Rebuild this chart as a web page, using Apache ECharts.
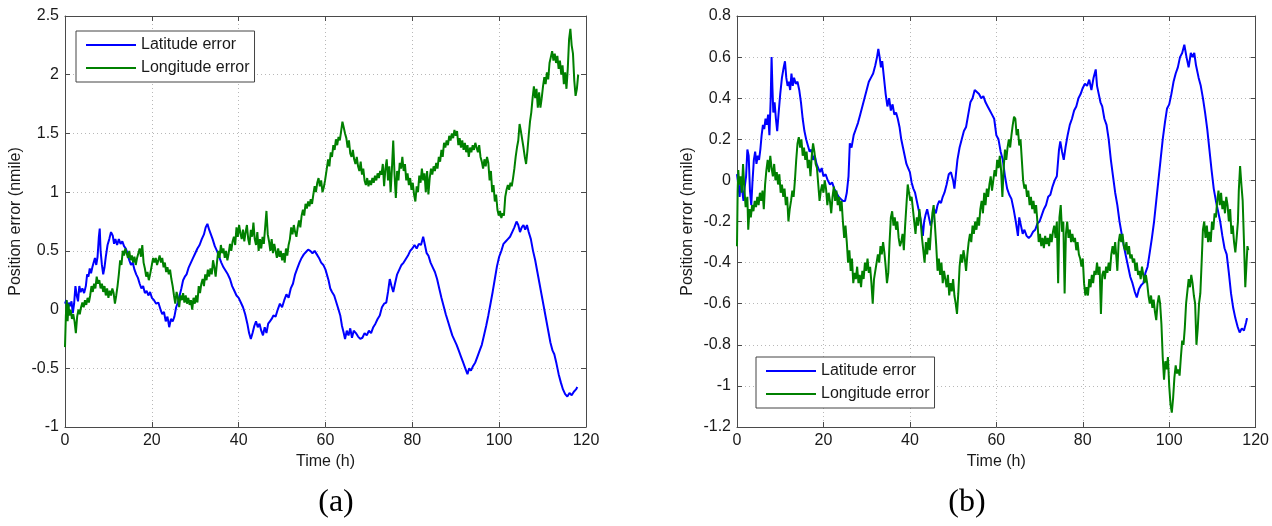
<!DOCTYPE html>
<html>
<head>
<meta charset="utf-8">
<script src="https://cdn.jsdelivr.net/npm/echarts@6/dist/echarts.min.js"></script>
<style>
html,body{margin:0;padding:0;background:#fff;}
#chart{width:1272px;height:526px;}
</style>
</head>
<body>
<div id="chart"></div>
<script>
// ---- data: [time (h), error (nmile)] ----
var seriesNames = ['Latitude error', 'Longitude error'];
var xLabelName = 'Time (h)';
var yLabelName = 'Position error (nmile)';
var panelLabels = ['(a)', '(b)'];

var latA = [[0,0.05],[0.3,0.08],[0.6,-0.02],[0.9,0.06],[1.2,0.03],[1.5,0.07],[1.8,-0.03],[2.1,0.05],[2.4,0.2],[2.7,0.12],[3.0,0.07],[3.3,0.2],[3.6,0.15],[4.0,0.18],[4.4,0.14],[4.8,0.2],[5.1,0.3],[5.4,0.28],[5.7,0.35],[6.0,0.31],[6.3,0.36],[6.6,0.4],[6.9,0.44],[7.2,0.38],[7.5,0.45],[7.8,0.62],[8.0,0.69],[8.2,0.5],[8.5,0.38],[8.8,0.3],[9.1,0.36],[9.4,0.45],[9.8,0.55],[10.2,0.6],[10.6,0.66],[11.0,0.63],[11.3,0.56],[11.6,0.6],[12.0,0.55],[12.4,0.6],[12.8,0.56],[13.2,0.58],[13.6,0.54],[14.0,0.52],[14.4,0.48],[14.8,0.42],[15.2,0.38],[15.6,0.4],[16.0,0.34],[16.4,0.3],[16.8,0.27],[17.2,0.22],[17.6,0.18],[18.0,0.2],[18.4,0.14],[18.8,0.16],[19.2,0.12],[19.6,0.15],[20.0,0.1],[20.5,0.08],[21.0,0.05],[21.5,0.06],[22.0,0.0],[22.4,-0.04],[22.8,-0.02],[23.2,-0.1],[23.6,-0.06],[24.0,-0.15],[24.4,-0.08],[24.8,-0.1],[25.2,-0.06],[25.6,0.02],[26.0,0.06],[26.4,0.12],[26.8,0.18],[27.2,0.25],[27.6,0.28],[28.0,0.3],[28.5,0.36],[29.0,0.4],[29.5,0.44],[30.0,0.48],[30.5,0.52],[31.0,0.55],[31.5,0.6],[32.0,0.64],[32.4,0.7],[32.8,0.73],[33.2,0.68],[33.6,0.64],[34.0,0.6],[34.5,0.54],[35.0,0.5],[35.5,0.45],[36.0,0.4],[36.5,0.36],[37.0,0.33],[37.5,0.3],[38.0,0.26],[38.5,0.2],[39.0,0.16],[39.5,0.12],[40.0,0.1],[40.5,0.06],[41.0,0.02],[41.5,-0.04],[42.0,-0.12],[42.4,-0.2],[42.8,-0.25],[43.2,-0.2],[43.6,-0.14],[44.0,-0.1],[44.4,-0.15],[44.8,-0.12],[45.2,-0.18],[45.6,-0.22],[46.0,-0.15],[46.4,-0.2],[46.8,-0.12],[47.2,-0.1],[47.6,-0.08],[48.0,-0.05],[48.5,-0.06],[49.0,0.0],[49.5,0.05],[50.0,0.02],[50.5,0.08],[51.0,0.13],[51.5,0.1],[52.0,0.18],[52.5,0.22],[53.0,0.3],[53.5,0.35],[54.0,0.4],[54.5,0.44],[55.0,0.47],[55.5,0.49],[56.0,0.51],[56.5,0.5],[57.0,0.48],[57.5,0.5],[58.0,0.47],[58.5,0.44],[59.0,0.4],[59.5,0.38],[60.0,0.34],[60.3,0.34],[60.7,0.25],[61.1,0.18],[61.5,0.15],[62.0,0.12],[62.5,0.06],[63.0,0.0],[63.4,-0.05],[63.8,-0.14],[64.2,-0.2],[64.5,-0.25],[64.9,-0.18],[65.3,-0.22],[65.7,-0.16],[66.1,-0.24],[66.5,-0.18],[67.0,-0.2],[67.5,-0.23],[68.0,-0.25],[68.5,-0.24],[69.0,-0.2],[69.5,-0.22],[70.0,-0.18],[70.5,-0.2],[71.0,-0.15],[71.5,-0.12],[72.0,-0.08],[72.5,-0.05],[73.0,0.02],[73.5,0.05],[74.0,0.06],[74.4,0.15],[74.8,0.26],[75.2,0.2],[75.6,0.15],[76.0,0.22],[76.5,0.3],[77.0,0.34],[77.5,0.38],[78.0,0.4],[78.5,0.43],[79.0,0.46],[79.5,0.5],[80.0,0.52],[80.5,0.55],[81.0,0.52],[81.5,0.56],[82.0,0.55],[82.5,0.62],[82.9,0.55],[83.3,0.48],[83.7,0.46],[84.2,0.4],[84.7,0.36],[85.2,0.32],[85.7,0.26],[86.2,0.18],[86.7,0.1],[87.2,0.03],[87.7,-0.04],[88.2,-0.1],[88.7,-0.16],[89.2,-0.22],[89.7,-0.26],[90.2,-0.3],[90.7,-0.35],[91.2,-0.4],[91.7,-0.45],[92.2,-0.5],[92.7,-0.55],[93.1,-0.5],[93.5,-0.52],[94.0,-0.48],[94.5,-0.45],[95.0,-0.4],[95.5,-0.35],[96.0,-0.3],[96.5,-0.22],[97.0,-0.14],[97.5,-0.05],[98.0,0.05],[98.5,0.15],[99.0,0.26],[99.5,0.37],[100.0,0.45],[100.5,0.5],[101.0,0.56],[101.5,0.58],[102.0,0.6],[102.5,0.62],[103.0,0.66],[103.5,0.7],[104.0,0.75],[104.4,0.72],[104.8,0.66],[105.2,0.7],[105.6,0.72],[106.0,0.68],[106.4,0.72],[106.8,0.66],[107.3,0.6],[107.8,0.5],[108.3,0.42],[108.8,0.32],[109.3,0.22],[109.8,0.12],[110.3,0.02],[110.8,-0.08],[111.3,-0.18],[111.8,-0.28],[112.3,-0.35],[112.7,-0.38],[113.2,-0.46],[113.7,-0.55],[114.2,-0.62],[114.7,-0.68],[115.2,-0.72],[115.7,-0.74],[116.2,-0.71],[116.7,-0.73],[117.2,-0.7],[117.7,-0.68],[118.0,-0.66]];

var lonA = [[0,-0.32],[0.2,-0.05],[0.4,0.08],[0.6,-0.1],[0.8,0.05],[1.0,-0.05],[1.3,0.0],[1.6,-0.08],[1.9,-0.04],[2.2,-0.1],[2.5,-0.2],[2.8,-0.06],[3.1,0.0],[3.4,-0.04],[3.7,0.02],[4.0,0.06],[4.3,0.02],[4.6,0.08],[4.9,0.04],[5.2,0.1],[5.5,0.06],[5.8,0.12],[6.1,0.2],[6.4,0.15],[6.7,0.22],[7.0,0.18],[7.3,0.28],[7.6,0.22],[7.9,0.25],[8.2,0.18],[8.5,0.22],[8.8,0.15],[9.1,0.2],[9.4,0.12],[9.7,0.18],[10.0,0.1],[10.3,0.16],[10.6,0.12],[10.9,0.18],[11.2,0.14],[11.5,0.05],[11.8,0.12],[12.1,0.2],[12.4,0.3],[12.7,0.42],[13.0,0.38],[13.3,0.5],[13.6,0.46],[13.9,0.52],[14.2,0.48],[14.5,0.44],[14.8,0.5],[15.1,0.42],[15.4,0.46],[15.7,0.4],[16.0,0.45],[16.3,0.38],[16.6,0.44],[16.9,0.48],[17.2,0.52],[17.5,0.45],[17.8,0.55],[18.1,0.4],[18.4,0.35],[18.7,0.28],[19.0,0.32],[19.3,0.25],[19.6,0.3],[20.0,0.38],[20.3,0.44],[20.6,0.4],[20.9,0.44],[21.2,0.38],[21.5,0.42],[21.8,0.46],[22.1,0.4],[22.4,0.44],[22.7,0.36],[23.0,0.4],[23.3,0.32],[23.6,0.36],[23.9,0.3],[24.2,0.34],[24.5,0.26],[24.8,0.2],[25.1,0.12],[25.4,0.05],[25.7,0.15],[26.0,0.1],[26.3,0.02],[26.6,0.12],[26.9,0.08],[27.2,0.14],[27.5,0.06],[27.8,0.12],[28.1,0.05],[28.4,0.1],[28.7,0.04],[29.0,0.08],[29.3,0.0],[29.6,0.1],[29.9,0.05],[30.2,0.12],[30.5,0.06],[30.8,0.2],[31.1,0.14],[31.4,0.22],[31.7,0.26],[32.0,0.2],[32.3,0.3],[32.6,0.25],[32.9,0.34],[33.2,0.28],[33.5,0.35],[33.8,0.3],[34.1,0.42],[34.4,0.36],[34.7,0.28],[35.0,0.4],[35.3,0.5],[35.6,0.44],[35.9,0.55],[36.2,0.48],[36.5,0.52],[36.8,0.44],[37.1,0.5],[37.4,0.42],[37.7,0.48],[38.0,0.56],[38.3,0.5],[38.6,0.58],[38.9,0.62],[39.2,0.55],[39.5,0.7],[39.8,0.62],[40.1,0.72],[40.4,0.65],[40.7,0.6],[41.0,0.68],[41.3,0.58],[41.6,0.66],[41.9,0.72],[42.2,0.6],[42.5,0.55],[42.8,0.68],[43.1,0.62],[43.4,0.74],[43.7,0.6],[44.0,0.55],[44.3,0.66],[44.6,0.5],[44.9,0.6],[45.2,0.52],[45.5,0.62],[45.8,0.56],[46.1,0.7],[46.4,0.84],[46.7,0.64],[47.0,0.58],[47.3,0.5],[47.6,0.6],[47.9,0.48],[48.2,0.56],[48.5,0.5],[48.8,0.44],[49.1,0.52],[49.4,0.45],[49.7,0.5],[50.0,0.42],[50.3,0.48],[50.6,0.4],[50.9,0.52],[51.2,0.46],[51.5,0.55],[51.8,0.6],[52.1,0.7],[52.4,0.64],[52.7,0.72],[53.0,0.66],[53.3,0.62],[53.6,0.7],[53.9,0.76],[54.2,0.7],[54.5,0.8],[54.8,0.85],[55.1,0.8],[55.4,0.9],[55.7,0.86],[56.0,0.92],[56.3,0.88],[56.6,0.94],[56.9,0.9],[57.2,0.98],[57.5,1.05],[57.8,1.0],[58.1,1.08],[58.4,1.12],[58.7,1.05],[59.0,1.1],[59.3,1.0],[59.6,1.04],[59.9,1.1],[60.3,1.2],[60.6,1.28],[60.9,1.22],[61.2,1.34],[61.5,1.3],[61.8,1.4],[62.1,1.36],[62.4,1.45],[62.7,1.4],[63.0,1.47],[63.3,1.44],[63.6,1.52],[63.9,1.6],[64.2,1.55],[64.5,1.5],[64.8,1.46],[65.1,1.38],[65.4,1.44],[65.7,1.33],[66.0,1.3],[66.3,1.36],[66.6,1.28],[66.9,1.24],[67.2,1.3],[67.5,1.22],[67.8,1.18],[68.1,1.26],[68.4,1.15],[68.7,1.2],[69.0,1.1],[69.3,1.06],[69.6,1.12],[69.9,1.05],[70.2,1.1],[70.5,1.06],[70.8,1.12],[71.1,1.08],[71.4,1.14],[71.7,1.1],[72.0,1.16],[72.3,1.12],[72.6,1.18],[72.9,1.15],[73.2,1.24],[73.5,1.05],[73.8,1.2],[74.1,1.28],[74.4,1.1],[74.7,1.22],[75.0,1.0],[75.3,1.2],[75.6,1.44],[75.9,1.15],[76.2,0.95],[76.5,1.18],[76.8,1.1],[77.1,1.25],[77.4,1.2],[77.7,1.3],[78.0,1.18],[78.3,1.24],[78.6,1.1],[78.9,1.16],[79.2,1.06],[79.5,1.12],[79.8,1.02],[80.1,1.08],[80.4,0.98],[80.7,0.92],[81.0,1.05],[81.3,1.0],[81.6,1.14],[81.9,1.08],[82.2,1.2],[82.5,1.1],[82.8,1.16],[83.1,1.0],[83.4,1.18],[83.7,0.98],[84.0,1.12],[84.3,1.2],[84.6,1.15],[84.9,1.22],[85.2,1.18],[85.5,1.25],[85.8,1.2],[86.1,1.3],[86.4,1.26],[86.7,1.36],[87.0,1.3],[87.3,1.42],[87.6,1.38],[87.9,1.44],[88.2,1.4],[88.5,1.48],[88.8,1.44],[89.1,1.5],[89.4,1.46],[89.7,1.53],[90.0,1.48],[90.3,1.52],[90.6,1.4],[90.9,1.46],[91.2,1.38],[91.5,1.44],[91.8,1.36],[92.1,1.42],[92.4,1.34],[92.7,1.4],[93.0,1.3],[93.3,1.38],[93.6,1.34],[93.9,1.4],[94.2,1.36],[94.5,1.42],[94.8,1.38],[95.1,1.34],[95.4,1.4],[95.7,1.3],[96.0,1.26],[96.3,1.2],[96.6,1.28],[96.9,1.22],[97.2,1.3],[97.5,1.25],[97.8,1.1],[98.1,1.18],[98.4,1.0],[98.7,1.06],[99.0,0.92],[99.3,0.98],[99.6,0.85],[99.9,0.8],[100.2,0.84],[100.5,0.78],[100.8,0.82],[101.1,0.8],[101.4,0.96],[101.7,1.02],[102.0,1.06],[102.3,1.02],[102.6,1.08],[102.9,1.05],[103.2,1.12],[103.5,1.2],[103.8,1.3],[104.1,1.38],[104.4,1.44],[104.7,1.58],[105.0,1.52],[105.3,1.45],[105.6,1.38],[105.9,1.3],[106.2,1.24],[106.5,1.35],[106.8,1.48],[107.1,1.6],[107.4,1.68],[107.7,1.8],[108.0,1.9],[108.3,1.8],[108.6,1.88],[108.9,1.72],[109.2,1.85],[109.5,1.72],[109.8,1.8],[110.1,1.9],[110.4,1.98],[110.7,1.92],[111.0,2.02],[111.3,1.96],[111.6,2.1],[111.9,2.15],[112.2,2.2],[112.5,2.12],[112.8,2.18],[113.1,2.1],[113.4,2.16],[113.7,2.05],[114.0,2.12],[114.3,2.0],[114.6,2.08],[114.9,1.92],[115.2,2.02],[115.5,1.88],[115.8,2.05],[116.1,2.3],[116.4,2.39],[116.7,2.25],[117.0,2.18],[117.3,1.95],[117.6,1.82],[117.9,1.88],[118.2,2.0]];

var latB = [[0,0.03],[0.3,-0.02],[0.6,-0.08],[0.9,0.0],[1.2,-0.05],[1.5,-0.1],[1.8,-0.03],[2.1,0.02],[2.4,0.15],[2.7,0.12],[3.0,-0.05],[3.3,-0.12],[3.6,0.0],[3.9,0.1],[4.2,0.14],[4.5,0.08],[4.8,0.12],[5.1,0.1],[5.4,0.15],[5.7,0.22],[6.0,0.27],[6.3,0.25],[6.6,0.3],[6.9,0.27],[7.2,0.32],[7.5,0.22],[7.8,0.4],[8.0,0.6],[8.2,0.45],[8.4,0.33],[8.7,0.38],[9.0,0.3],[9.3,0.24],[9.6,0.32],[10.0,0.42],[10.4,0.5],[10.8,0.55],[11.1,0.58],[11.4,0.5],[11.7,0.46],[12.0,0.48],[12.3,0.44],[12.6,0.52],[12.9,0.46],[13.2,0.5],[13.6,0.47],[14.0,0.48],[14.4,0.44],[14.8,0.38],[15.2,0.3],[15.6,0.24],[16.0,0.2],[16.4,0.17],[16.8,0.14],[17.2,0.15],[17.6,0.1],[18.0,0.12],[18.4,0.08],[18.8,0.06],[19.2,0.04],[19.6,0.06],[20.0,0.02],[20.5,0.03],[21.0,0.0],[21.5,-0.02],[22.0,-0.01],[22.5,-0.04],[23.0,-0.06],[23.5,-0.08],[24.0,-0.09],[24.5,-0.1],[25.0,-0.1],[25.4,-0.06],[25.8,0.02],[26.1,0.18],[26.5,0.16],[27.0,0.22],[27.5,0.25],[28.0,0.28],[28.5,0.32],[29.0,0.36],[29.5,0.4],[30.0,0.44],[30.5,0.48],[31.0,0.5],[31.5,0.52],[32.0,0.56],[32.4,0.6],[32.7,0.64],[33.0,0.6],[33.3,0.55],[33.6,0.58],[34.0,0.5],[34.4,0.42],[34.8,0.36],[35.2,0.4],[35.6,0.34],[36.0,0.37],[36.4,0.32],[36.8,0.33],[37.2,0.3],[37.6,0.26],[38.0,0.2],[38.4,0.16],[38.8,0.12],[39.2,0.08],[39.6,0.06],[40.0,0.04],[40.4,-0.01],[40.8,-0.04],[41.2,-0.06],[41.6,-0.1],[42.0,-0.14],[42.4,-0.18],[42.7,-0.22],[43.0,-0.27],[43.3,-0.2],[43.6,-0.17],[44.0,-0.14],[44.4,-0.18],[44.8,-0.22],[45.2,-0.19],[45.6,-0.14],[46.0,-0.16],[46.4,-0.12],[46.8,-0.1],[47.2,-0.11],[47.6,-0.08],[48.0,-0.06],[48.5,-0.02],[49.0,0.03],[49.5,0.04],[50.0,0.0],[50.3,-0.04],[50.6,0.02],[51.0,0.1],[51.5,0.16],[52.0,0.2],[52.5,0.24],[53.0,0.26],[53.5,0.32],[54.0,0.38],[54.5,0.4],[55.0,0.44],[55.5,0.43],[56.0,0.42],[56.5,0.4],[57.0,0.41],[57.5,0.38],[58.0,0.36],[58.5,0.34],[59.0,0.32],[59.5,0.3],[60.0,0.22],[60.5,0.2],[61.0,0.14],[61.5,0.1],[62.0,0.02],[62.5,-0.04],[63.0,-0.07],[63.5,-0.09],[64.0,-0.14],[64.5,-0.2],[65.0,-0.27],[65.3,-0.18],[65.7,-0.22],[66.1,-0.26],[66.5,-0.24],[67.0,-0.27],[67.5,-0.28],[68.0,-0.27],[68.5,-0.25],[69.0,-0.24],[69.5,-0.21],[70.0,-0.2],[70.5,-0.17],[71.0,-0.14],[71.5,-0.12],[72.0,-0.08],[72.5,-0.07],[73.0,-0.03],[73.5,0.0],[74.0,0.02],[74.5,0.15],[74.8,0.19],[75.2,0.14],[75.6,0.1],[76.0,0.16],[76.5,0.22],[77.0,0.27],[77.5,0.3],[78.0,0.34],[78.5,0.36],[79.0,0.4],[79.5,0.42],[80.0,0.45],[80.5,0.47],[81.0,0.46],[81.5,0.49],[82.0,0.44],[82.5,0.5],[83.0,0.54],[83.3,0.46],[83.7,0.42],[84.1,0.38],[84.5,0.36],[85.0,0.3],[85.5,0.27],[86.0,0.2],[86.5,0.1],[87.0,0.02],[87.5,-0.06],[88.0,-0.12],[88.5,-0.2],[89.0,-0.26],[89.5,-0.32],[90.0,-0.37],[90.5,-0.42],[91.0,-0.47],[91.5,-0.5],[92.0,-0.54],[92.5,-0.57],[93.0,-0.53],[93.5,-0.51],[94.0,-0.5],[94.5,-0.45],[95.0,-0.42],[95.5,-0.35],[96.0,-0.28],[96.5,-0.2],[97.0,-0.1],[97.5,0.0],[98.0,0.1],[98.5,0.2],[99.0,0.28],[99.5,0.35],[100.0,0.37],[100.5,0.42],[101.0,0.48],[101.5,0.52],[102.0,0.55],[102.5,0.6],[103.0,0.62],[103.5,0.66],[104.0,0.6],[104.5,0.55],[105.0,0.62],[105.4,0.6],[105.8,0.62],[106.2,0.56],[106.8,0.5],[107.3,0.46],[107.8,0.4],[108.3,0.33],[108.8,0.25],[109.3,0.15],[109.8,0.05],[110.3,-0.04],[110.8,-0.1],[111.3,-0.15],[111.8,-0.2],[112.3,-0.27],[112.8,-0.33],[113.3,-0.36],[113.8,-0.45],[114.3,-0.55],[114.8,-0.62],[115.3,-0.67],[115.8,-0.71],[116.3,-0.74],[116.8,-0.72],[117.3,-0.73],[117.8,-0.69],[118.0,-0.67]];

var lonB = [[0,-0.32],[0.15,-0.05],[0.3,0.05],[0.5,-0.02],[0.8,0.02],[1.1,-0.06],[1.4,0.08],[1.7,-0.04],[2.0,-0.13],[2.4,-0.08],[2.6,-0.24],[2.9,-0.14],[3.2,-0.18],[3.5,-0.12],[3.8,-0.15],[4.1,-0.1],[4.4,-0.13],[4.7,-0.08],[5.0,-0.12],[5.3,-0.06],[5.6,-0.1],[5.9,-0.05],[6.2,-0.14],[6.5,-0.02],[6.8,0.05],[7.1,0.1],[7.4,0.04],[7.7,0.12],[8.0,0.06],[8.3,0.02],[8.6,0.08],[8.9,0.0],[9.2,0.04],[9.5,-0.02],[9.8,0.03],[10.1,-0.06],[10.4,-0.02],[10.7,-0.08],[11.0,-0.04],[11.3,-0.12],[11.6,-0.08],[11.9,-0.2],[12.2,-0.14],[12.5,-0.1],[12.8,-0.05],[13.1,-0.08],[13.4,0.0],[13.7,0.1],[14.0,0.18],[14.3,0.21],[14.6,0.16],[14.9,0.2],[15.2,0.12],[15.5,0.16],[15.8,0.1],[16.1,0.14],[16.4,0.06],[16.7,0.1],[17.0,0.02],[17.3,0.12],[17.6,0.18],[17.9,0.14],[18.2,0.08],[18.5,0.06],[18.8,-0.02],[19.1,-0.1],[19.4,-0.05],[19.7,-0.02],[20.0,-0.06],[20.3,0.0],[20.6,-0.04],[20.9,-0.12],[21.2,-0.06],[21.5,-0.1],[21.8,-0.16],[22.1,-0.08],[22.4,-0.03],[22.7,-0.1],[23.0,-0.05],[23.3,-0.12],[23.6,-0.08],[23.9,-0.15],[24.2,-0.1],[24.5,-0.2],[24.8,-0.28],[25.1,-0.22],[25.4,-0.3],[25.7,-0.4],[26.0,-0.34],[26.3,-0.44],[26.6,-0.38],[26.9,-0.5],[27.2,-0.45],[27.5,-0.48],[27.8,-0.42],[28.1,-0.5],[28.4,-0.46],[28.7,-0.52],[29.0,-0.44],[29.3,-0.48],[29.6,-0.4],[29.9,-0.44],[30.2,-0.38],[30.5,-0.45],[30.8,-0.42],[31.1,-0.5],[31.4,-0.6],[31.7,-0.48],[32.0,-0.44],[32.3,-0.4],[32.6,-0.36],[32.9,-0.4],[33.2,-0.32],[33.5,-0.36],[33.8,-0.3],[34.1,-0.35],[34.4,-0.42],[34.7,-0.5],[35.0,-0.45],[35.3,-0.3],[35.6,-0.18],[35.9,-0.15],[36.2,-0.22],[36.5,-0.18],[36.8,-0.24],[37.1,-0.2],[37.4,-0.28],[37.7,-0.32],[38.0,-0.3],[38.3,-0.26],[38.6,-0.34],[38.9,-0.22],[39.2,-0.12],[39.5,-0.02],[39.8,-0.06],[40.1,-0.1],[40.4,-0.08],[40.7,-0.14],[41.0,-0.2],[41.3,-0.26],[41.6,-0.18],[41.9,-0.22],[42.2,-0.14],[42.5,-0.2],[42.8,-0.28],[43.1,-0.34],[43.4,-0.4],[43.7,-0.3],[44.0,-0.36],[44.3,-0.28],[44.6,-0.34],[44.9,-0.24],[45.2,-0.16],[45.5,-0.12],[45.8,-0.22],[46.1,-0.32],[46.4,-0.44],[46.7,-0.38],[47.0,-0.46],[47.3,-0.4],[47.6,-0.5],[47.9,-0.44],[48.2,-0.48],[48.5,-0.52],[48.8,-0.46],[49.1,-0.56],[49.4,-0.5],[49.7,-0.54],[50.0,-0.48],[50.3,-0.56],[50.6,-0.6],[50.9,-0.65],[51.2,-0.55],[51.5,-0.42],[51.8,-0.36],[52.1,-0.4],[52.4,-0.34],[52.7,-0.38],[53.0,-0.44],[53.3,-0.36],[53.6,-0.3],[53.9,-0.26],[54.2,-0.3],[54.5,-0.22],[54.8,-0.26],[55.1,-0.2],[55.4,-0.24],[55.7,-0.18],[56.0,-0.22],[56.3,-0.14],[56.6,-0.1],[56.9,-0.16],[57.2,-0.06],[57.5,-0.12],[57.8,-0.04],[58.1,-0.08],[58.4,-0.02],[58.7,0.02],[59.0,-0.05],[59.3,0.0],[59.6,0.05],[59.9,0.02],[60.2,0.1],[60.5,0.06],[60.8,0.12],[61.1,0.05],[61.4,-0.08],[61.7,0.06],[62.0,0.15],[62.3,0.1],[62.6,0.16],[62.9,0.2],[63.2,0.16],[63.5,0.22],[63.8,0.27],[64.1,0.31],[64.4,0.3],[64.7,0.22],[65.0,0.25],[65.3,0.17],[65.6,0.2],[65.9,0.1],[66.2,0.0],[66.5,-0.04],[66.8,-0.02],[67.1,-0.08],[67.4,-0.05],[67.7,-0.12],[68.0,-0.08],[68.3,-0.14],[68.6,-0.1],[68.9,-0.16],[69.2,-0.12],[69.5,-0.2],[69.8,-0.3],[70.1,-0.26],[70.4,-0.32],[70.7,-0.28],[71.0,-0.33],[71.3,-0.27],[71.6,-0.31],[71.9,-0.28],[72.2,-0.32],[72.5,-0.26],[72.8,-0.3],[73.1,-0.25],[73.4,-0.22],[73.7,-0.28],[74.0,-0.2],[74.3,-0.5],[74.6,-0.18],[74.9,-0.12],[75.2,-0.25],[75.5,-0.2],[75.8,-0.55],[76.1,-0.26],[76.4,-0.2],[76.7,-0.28],[77.0,-0.24],[77.3,-0.3],[77.6,-0.26],[77.9,-0.3],[78.2,-0.28],[78.5,-0.34],[78.8,-0.3],[79.1,-0.36],[79.4,-0.38],[79.7,-0.42],[80.0,-0.38],[80.3,-0.5],[80.6,-0.56],[80.9,-0.52],[81.2,-0.56],[81.5,-0.48],[81.8,-0.52],[82.1,-0.46],[82.4,-0.5],[82.7,-0.44],[83.0,-0.46],[83.3,-0.4],[83.6,-0.46],[83.9,-0.42],[84.2,-0.65],[84.5,-0.46],[84.8,-0.44],[85.1,-0.48],[85.4,-0.42],[85.7,-0.45],[86.0,-0.4],[86.3,-0.44],[86.6,-0.36],[86.9,-0.32],[87.2,-0.36],[87.5,-0.3],[87.8,-0.38],[88.0,-0.44],[88.3,-0.3],[88.6,-0.26],[88.9,-0.3],[89.2,-0.26],[89.5,-0.32],[89.8,-0.34],[90.1,-0.3],[90.4,-0.36],[90.7,-0.32],[91.0,-0.38],[91.3,-0.36],[91.6,-0.4],[91.9,-0.38],[92.2,-0.44],[92.5,-0.4],[92.8,-0.46],[93.1,-0.44],[93.4,-0.48],[93.7,-0.42],[94.0,-0.46],[94.3,-0.5],[94.6,-0.46],[94.9,-0.5],[95.2,-0.56],[95.5,-0.6],[95.8,-0.56],[96.1,-0.62],[96.4,-0.58],[96.7,-0.64],[97.0,-0.68],[97.3,-0.6],[97.6,-0.56],[97.9,-0.6],[98.2,-0.7],[98.5,-0.86],[98.8,-0.97],[99.1,-0.88],[99.4,-0.92],[99.7,-0.86],[100.0,-1.0],[100.3,-1.09],[100.6,-1.13],[100.9,-1.06],[101.2,-0.96],[101.5,-0.9],[101.8,-0.94],[102.1,-0.92],[102.4,-0.95],[102.7,-0.86],[103.0,-0.78],[103.3,-0.8],[103.6,-0.72],[103.9,-0.6],[104.2,-0.54],[104.5,-0.48],[104.8,-0.52],[105.1,-0.46],[105.4,-0.5],[105.7,-0.56],[106.0,-0.6],[106.3,-0.8],[106.6,-0.72],[106.9,-0.6],[107.2,-0.55],[107.5,-0.4],[107.8,-0.24],[108.1,-0.2],[108.4,-0.28],[108.7,-0.22],[109.0,-0.3],[109.3,-0.25],[109.6,-0.3],[109.9,-0.2],[110.2,-0.24],[110.5,-0.16],[110.8,-0.18],[111.1,-0.1],[111.4,-0.05],[111.7,-0.12],[112.0,-0.06],[112.3,-0.14],[112.6,-0.1],[112.9,-0.16],[113.2,-0.08],[113.5,-0.12],[113.8,-0.2],[114.1,-0.14],[114.4,-0.26],[114.7,-0.22],[115.0,-0.3],[115.3,-0.35],[115.6,-0.28],[115.9,-0.2],[116.1,-0.05],[116.4,0.07],[116.7,-0.02],[117.0,-0.1],[117.3,-0.3],[117.6,-0.52],[117.9,-0.4],[118.1,-0.32],[118.3,-0.34]];

var xTicks = {min: 0, max: 120, step: 20};
var yTicksA = {min: -1, max: 2.5, step: 0.5};
var yTicksB = {min: -1.2, max: 0.8, step: 0.2};

// ---- styling ----
var FONT = '"Liberation Sans", Arial, sans-serif';
var AXIS_COLOR = '#4a4a4a';
var TEXT_COLOR = '#1a1a1a';
var GRID_COLOR = '#b8b8b8';

function fmt(v) { return String(Math.round(v * 10) / 10); }

function xAxisPair(gridIndex) {
  var base = {
    type: 'value', gridIndex: gridIndex,
    min: xTicks.min, max: xTicks.max, interval: xTicks.step,
    axisLine: {show: true, onZero: false, lineStyle: {color: AXIS_COLOR, width: 1}},
    axisTick: {show: true, inside: true, length: 5, lineStyle: {color: AXIS_COLOR}}
  };
  var bottom = Object.assign({}, base, {
    position: 'bottom',
    axisLabel: {show: true, margin: 6, fontSize: 16, color: TEXT_COLOR, fontFamily: FONT, formatter: fmt},
    splitLine: {show: true, lineStyle: {type: [1, 3], color: GRID_COLOR, width: 1}},
    name: xLabelName, nameLocation: 'middle', nameGap: 26,
    nameTextStyle: {fontSize: 16, color: TEXT_COLOR, fontFamily: FONT}
  });
  var top = Object.assign({}, base, {
    position: 'top',
    axisLabel: {show: false},
    splitLine: {show: false}
  });
  return [bottom, top];
}

function yAxisPair(gridIndex, t) {
  var base = {
    type: 'value', gridIndex: gridIndex,
    min: t.min, max: t.max, interval: t.step,
    axisLine: {show: true, onZero: false, lineStyle: {color: AXIS_COLOR, width: 1}},
    axisTick: {show: true, inside: true, length: 5, lineStyle: {color: AXIS_COLOR}}
  };
  var left = Object.assign({}, base, {
    position: 'left',
    axisLabel: {show: true, margin: 6, fontSize: 16, color: TEXT_COLOR, fontFamily: FONT, formatter: fmt},
    splitLine: {show: true, lineStyle: {type: [1, 3], color: GRID_COLOR, width: 1}},
    name: yLabelName, nameLocation: 'middle', nameGap: 41,
    nameTextStyle: {fontSize: 16, color: TEXT_COLOR, fontFamily: FONT}
  });
  var right = Object.assign({}, base, {
    position: 'right',
    axisLabel: {show: false},
    splitLine: {show: false}
  });
  return [left, right];
}

function lineSeries(name, data, axisIdx, color) {
  return {
    type: 'line', name: name, data: data,
    xAxisIndex: axisIdx, yAxisIndex: axisIdx,
    showSymbol: false, symbol: 'none',
    lineStyle: {color: color, width: 2},
    itemStyle: {color: color},
    animation: false
  };
}

function legendBox(left, top) {
  return {
    left: left, top: top, orient: 'vertical',
    data: seriesNames,
    icon: 'rect', itemWidth: 50, itemHeight: 2, itemGap: 7,
    padding: [6, 5, 6, 10],
    borderColor: '#444', borderWidth: 1, backgroundColor: '#fff',
    textStyle: {fontSize: 16, color: TEXT_COLOR, fontFamily: FONT},
    selectedMode: false
  };
}

var BLUE = '#0000ff';
var GREEN = '#008000';

var option = {
  backgroundColor: '#ffffff',
  animation: false,
  grid: [
    {left: 65, top: 16, width: 521, height: 411, containLabel: false},
    {left: 737, top: 16, width: 520, height: 411, containLabel: false}
  ],
  xAxis: xAxisPair(0).concat(xAxisPair(1)),
  yAxis: yAxisPair(0, yTicksA).concat(yAxisPair(1, yTicksB)),
  legend: [legendBox(76, 31), legendBox(756, 357)],
  series: [
    lineSeries(seriesNames[0], latA, 0, BLUE),
    lineSeries(seriesNames[1], lonA, 0, GREEN),
    lineSeries(seriesNames[0], latB, 2, BLUE),
    lineSeries(seriesNames[1], lonB, 2, GREEN)
  ],
  graphic: [
    {type: 'text', x: 336, y: 503, style: {text: panelLabels[0], font: '32px "Liberation Serif", "Times New Roman", serif', fill: '#000', align: 'center', verticalAlign: 'middle', textAlign: 'center', textVerticalAlign: 'middle'}},
    {type: 'text', x: 967, y: 503, style: {text: panelLabels[1], font: '32px "Liberation Serif", "Times New Roman", serif', fill: '#000', align: 'center', verticalAlign: 'middle', textAlign: 'center', textVerticalAlign: 'middle'}}
  ]
};

var chart = echarts.init(document.getElementById('chart'), null, {renderer: 'canvas'});
chart.setOption(option);
</script>
</body>
</html>
